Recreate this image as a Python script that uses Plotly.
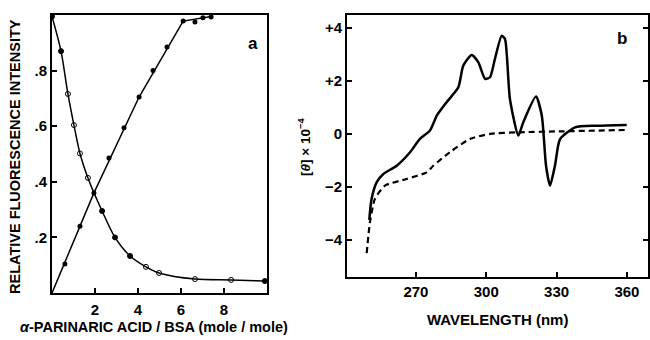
import plotly.graph_objects as go

# ---------------- Panel a data ----------------
decay_x = [0.0, 0.42, 0.74, 1.02, 1.30, 1.67, 2.33, 2.93, 3.63, 4.37, 4.98, 6.65, 8.33, 9.9]
decay_y = [0.995, 0.87, 0.716, 0.604, 0.502, 0.414, 0.295, 0.20, 0.133, 0.094, 0.072, 0.05, 0.047, 0.043]
decay_open = [False, False, True, True, True, True, False, False, False, True, True, True, True, False]

rise_x = [0.6, 1.3, 1.95, 2.65, 3.35, 4.05, 4.7, 5.35, 6.1, 6.65, 7.02, 7.4]
rise_y = [0.104, 0.24, 0.36, 0.486, 0.594, 0.705, 0.80, 0.885, 0.978, 0.975, 0.99, 0.993]

rise_line_x = [0.0, 1.95, 4.05, 6.1, 7.4]
rise_line_y = [0.0, 0.36, 0.705, 0.978, 0.995]

a_xticks = [2, 4, 6, 8]
a_yticks = [0.2, 0.4, 0.6, 0.8]
a_yticktext = [".2", ".4", ".6", ".8"]

# ---------------- Panel b data ----------------
solid_wl = [250.1, 251.1, 253.3, 256.1, 261.8, 267.5, 271.7, 276.0, 278.9, 283.1, 288.1, 290.2,
            293.8, 296.6, 299.5, 301.6, 303.7, 306.6, 308.0, 310.1, 313.7, 315.8, 321.2, 323.7,
            325.5, 327.2, 329.3, 331.5, 337.9, 347.1, 359.9]
solid_theta = [-3.24, -2.45, -1.82, -1.51, -1.2, -0.69, -0.19, 0.13, 0.69, 1.2, 1.76, 2.58,
               2.98, 2.71, 2.08, 2.14, 2.83, 3.71, 3.58, 1.32, -0.06, 0.44, 1.41, 0.69,
               -1.2, -1.95, -1.2, -0.19, 0.25, 0.31, 0.34]

dashed_wl = [249.0, 250.4, 252.5, 256.8, 266.0, 274.6, 277.4, 284.5, 293.0, 301.6, 313.0, 332.9, 359.9]
dashed_theta = [-4.5, -3.33, -2.45, -1.95, -1.7, -1.45, -1.2, -0.69, -0.19, 0.0, 0.06, 0.1, 0.15]

b_xticks = [270, 300, 330, 360]
b_yticks = [4, 2, 0, -2, -4]
b_yticktext = ["+4", "+2", "0", "\u22122", "\u22124"]

FONT = "Liberation Sans"
tickfont = dict(family=FONT, size=15, color="black", weight="bold")

fig = go.Figure()

# Panel a curves
fig.add_trace(go.Scatter(x=decay_x, y=decay_y, mode="lines", line=dict(color="black", width=1.5, shape="spline", smoothing=0.8),
                         xaxis="x", yaxis="y", hoverinfo="skip"))
fig.add_trace(go.Scatter(x=rise_line_x, y=rise_line_y, mode="lines", line=dict(color="black", width=1.5),
                         xaxis="x", yaxis="y", hoverinfo="skip"))
fig.add_trace(go.Scatter(x=decay_x, y=decay_y, mode="markers",
                         marker=dict(symbol=["circle-open" if o else "circle" for o in decay_open],
                                     size=5, color="black", line=dict(color="black", width=1)),
                         xaxis="x", yaxis="y"))
fig.add_trace(go.Scatter(x=rise_x, y=rise_y, mode="markers",
                         marker=dict(symbol="circle", size=5, color="black"),
                         xaxis="x", yaxis="y"))

# Panel b curves
fig.add_trace(go.Scatter(x=solid_wl, y=solid_theta, mode="lines",
                         line=dict(color="black", width=2.5, shape="spline", smoothing=0.6),
                         xaxis="x2", yaxis="y2"))
fig.add_trace(go.Scatter(x=dashed_wl, y=dashed_theta, mode="lines",
                         line=dict(color="black", width=2.2, dash="6px,4px", shape="spline", smoothing=0.6),
                         xaxis="x2", yaxis="y2"))

axis_common = dict(showline=True, linecolor="black", linewidth=2, showgrid=False, zeroline=False,
                   ticks="inside", ticklen=5, tickwidth=2, tickcolor="black", tickfont=tickfont,
                   automargin=False)

fig.update_layout(
    width=650, height=340, margin=dict(l=0, r=0, t=0, b=0, autoexpand=False),
    paper_bgcolor="white", plot_bgcolor="white", showlegend=False,
    xaxis=dict(domain=[52/650, 267/650], range=[0, 10], tickvals=a_xticks, mirror=True,
               anchor="y", ticklabelstandoff=2, **axis_common),
    yaxis=dict(domain=[1-293/340, 1-15/340], range=[0, 1.0], tickvals=a_yticks, ticktext=a_yticktext,
               mirror=True, anchor="x", **axis_common),
    xaxis2=dict(domain=[347/650, 648/650], range=[240.6, 369], tickvals=b_xticks, mirror=True,
                anchor="y2", **axis_common),
    yaxis2=dict(domain=[1-277/340, 1-15/340], range=[-5.4, 4.49], tickvals=b_yticks, ticktext=b_yticktext,
                mirror="ticks", anchor="x2", **axis_common),
)

titlefont = dict(family=FONT, size=14.5, color="black", weight="bold")
annotations = [
    dict(text="RELATIVE FLUORESCENCE INTENSITY", x=15/650, y=1-157/340, textangle=-90),
    dict(text="<i>\u03b1</i>-PARINARIC ACID / BSA (mole / mole)", x=154/650, y=1-327/340),
    dict(text="[<i>\u03b8</i>] \u00d7 10<sup>\u22124</sup>", x=304/650, y=1-147/340, textangle=-90,
         font=dict(family=FONT, size=13.5, color="black", weight="bold")),
    dict(text="WAVELENGTH (nm)", x=497/650, y=1-319/340,
         font=dict(family=FONT, size=15, color="black", weight="bold")),
    dict(text="a", x=253/650, y=1-43/340, font=dict(family=FONT, size=17, color="black", weight="bold")),
    dict(text="b", x=622/650, y=1-38/340, font=dict(family=FONT, size=17, color="black", weight="bold")),
]
for a in annotations:
    a.setdefault("font", titlefont)
    fig.add_annotation(xref="paper", yref="paper", showarrow=False, xanchor="center", yanchor="middle", **a)

fig.write_html("out.html", config={"displayModeBar": False},
               post_script="document.body.style.margin='0';document.body.style.padding='0';")
